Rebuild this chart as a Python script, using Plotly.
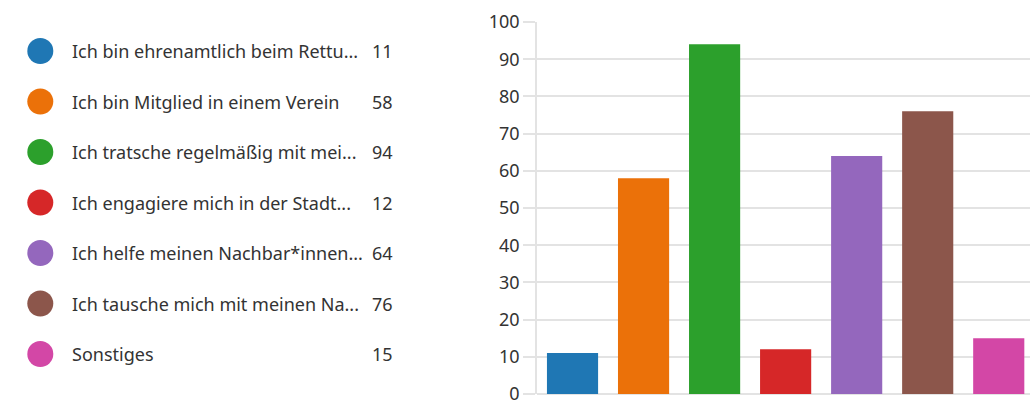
import plotly.graph_objects as go

labels = [
    "Ich bin ehrenamtlich beim Rettu...",
    "Ich bin Mitglied in einem Verein",
    "Ich tratsche regelmäßig mit mei...",
    "Ich engagiere mich in der Stadt...",
    "Ich helfe meinen Nachbar*innen...",
    "Ich tausche mich mit meinen Na...",
    "Sonstiges",
]
values = [11, 58, 94, 12, 64, 76, 15]
colors = ["#1f77b4", "#eb7109", "#2ca02c", "#d62728", "#9467bd", "#8c564b", "#d347a6"]
y_ticks = [0, 10, 20, 30, 40, 50, 60, 70, 80, 90, 100]

W, H = 1030, 403
TOP, BOT = 22, 9
FONT = "Noto Sans"
TXT = "#333333"
GRID = "#e3e3e3"

fig = go.Figure()

# bars
fig.add_trace(go.Bar(
    x=list(range(len(values))), y=values,
    marker=dict(color=colors, line=dict(width=0)),
    width=0.72, showlegend=False, hoverinfo="y",
    xaxis="x", yaxis="y",
))

# legend circles (pixel-based helper axes)
row_y = [51 + i * 50.5 for i in range(len(labels))]
fig.add_trace(go.Scatter(
    x=[40.3] * len(labels), y=row_y, mode="markers",
    marker=dict(size=26, color=colors, line=dict(width=0)),
    showlegend=False, hoverinfo="skip",
    xaxis="x2", yaxis="y2",
))

annotations = []
for i, (lab, val) in enumerate(zip(labels, values)):
    annotations.append(dict(
        x=70, y=row_y[i], xref="x2", yref="y2", text=lab, showarrow=False,
        xanchor="left", yanchor="middle", font=dict(family=FONT, size=18, color=TXT),
    ))
    annotations.append(dict(
        x=395, y=row_y[i], xref="x2", yref="y2", text=str(val), showarrow=False,
        xanchor="right", yanchor="middle", font=dict(family=FONT, size=18, color=TXT),
    ))

fig.update_layout(
    width=W, height=H,
    margin=dict(l=0, r=0, t=TOP, b=BOT, pad=0),
    paper_bgcolor="white", plot_bgcolor="white",
    font=dict(family=FONT, color=TXT),
    xaxis=dict(
        domain=[537 / W, 1.0], range=[-0.5, 6.44],
        showticklabels=False, showgrid=False, zeroline=False,
        showline=False, ticks="", fixedrange=True,
    ),
    yaxis=dict(
        range=[0, 100], tickvals=y_ticks, ticktext=[str(v) for v in y_ticks],
        showgrid=True, gridcolor=GRID, gridwidth=1.5,
        zeroline=True, zerolinecolor=GRID, zerolinewidth=1.5,
        showline=True, linecolor=GRID, linewidth=1.5,
        ticks="outside", ticklen=12, tickcolor=GRID, tickwidth=1.5,
        tickfont=dict(family=FONT, size=18, color=TXT),
        ticklabeloverflow="allow",
        automargin=False, anchor="x", fixedrange=True,
    ),
    xaxis2=dict(
        domain=[0, 515 / W], range=[0, 515], visible=False, fixedrange=True,
        anchor="y2",
    ),
    yaxis2=dict(
        domain=[0, 1], range=[H - BOT, TOP], visible=False, fixedrange=True,
        anchor="x2",
    ),
    annotations=annotations,
    bargap=0.28,
)

fig.write_html(
    "out.html",
    config={"displayModeBar": False},
    post_script="document.body.style.margin='0';document.body.style.overflow='hidden';",
)
